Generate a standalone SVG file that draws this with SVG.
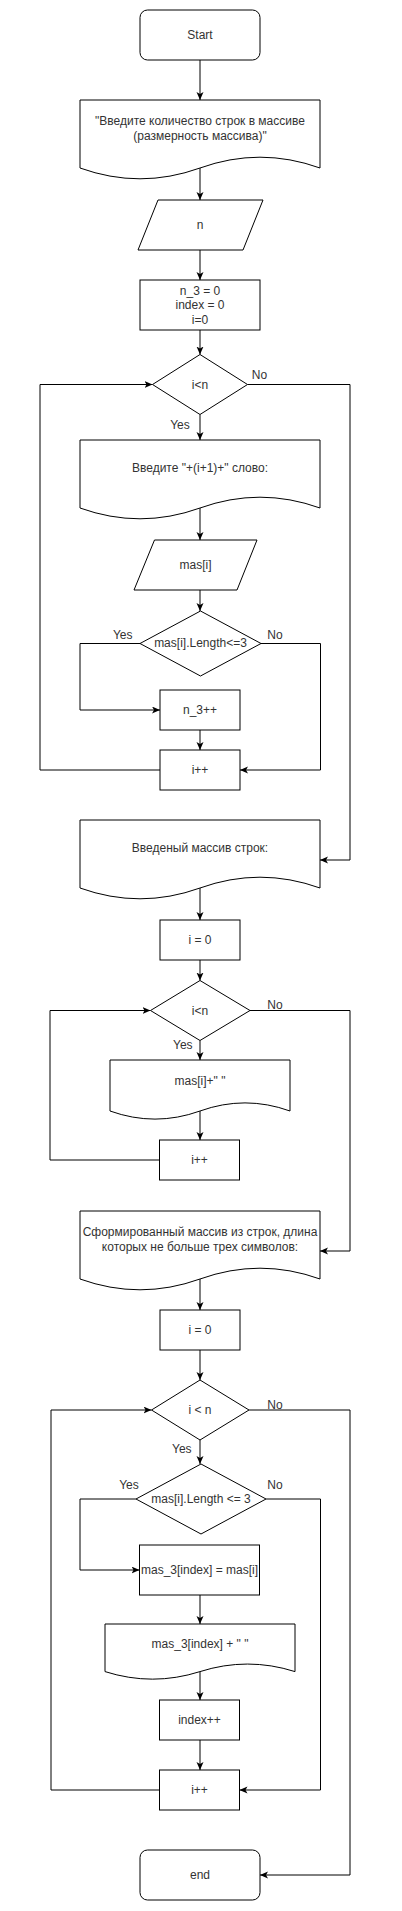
<svg xmlns="http://www.w3.org/2000/svg" width="402" height="1911" viewBox="0 0 402 1911">
<style>
.s{fill:#ffffff;stroke:#000000;stroke-width:1}
.c{fill:none;stroke:#000000;stroke-width:1}
text{font-family:"Liberation Sans",Arial,sans-serif;font-size:12px;fill:#333333}
.m{text-anchor:middle}
</style>
<defs>
<marker id="ah" markerWidth="8" markerHeight="8" refX="8" refY="3.5" orient="auto" markerUnits="userSpaceOnUse">
<path d="M0,0 L8,3.5 L0,7 L2,3.5 Z" fill="#000000"/>
</marker>
</defs>
<rect width="402" height="1911" fill="#ffffff"/>
<g id="connectors" marker-end="url(#ah)">
<path class="c" d="M200,60 L200,100" marker-end="url(#ah)"/>
<path class="c" d="M200,168 L200,200" marker-end="url(#ah)"/>
<path class="c" d="M200,250 L200,280" marker-end="url(#ah)"/>
<path class="c" d="M200,330 L200,354.5" marker-end="url(#ah)"/>
<path class="c" d="M247.5,384.5 L350,384.5 L350,860 L320,860" marker-end="url(#ah)"/>
<path class="c" d="M200,414.5 L200,440" marker-end="url(#ah)"/>
<path class="c" d="M200,508 L200,540" marker-end="url(#ah)"/>
<path class="c" d="M200,590 L200,611" marker-end="url(#ah)"/>
<path class="c" d="M140,643.5 L80,643.5 L80,710 L160,710" marker-end="url(#ah)"/>
<path class="c" d="M261,643.5 L320.5,643.5 L320.5,770 L240,770" marker-end="url(#ah)"/>
<path class="c" d="M200,730 L200,750" marker-end="url(#ah)"/>
<path class="c" d="M160,770 L40,770 L40,384.5 L152.5,384.5" marker-end="url(#ah)"/>
<path class="c" d="M200,888 L200,920" marker-end="url(#ah)"/>
<path class="c" d="M200,960 L200,980.5" marker-end="url(#ah)"/>
<path class="c" d="M250,1010.5 L350,1010.5 L350,1251 L320,1251" marker-end="url(#ah)"/>
<path class="c" d="M200,1040.5 L200,1060" marker-end="url(#ah)"/>
<path class="c" d="M200,1111 L200,1140" marker-end="url(#ah)"/>
<path class="c" d="M159.5,1160 L50,1160 L50,1010.5 L150.5,1010.5" marker-end="url(#ah)"/>
<path class="c" d="M200,1279 L200,1310" marker-end="url(#ah)"/>
<path class="c" d="M200,1350 L200,1380" marker-end="url(#ah)"/>
<path class="c" d="M249,1410 L350,1410 L350,1875 L260,1875" marker-end="url(#ah)"/>
<path class="c" d="M200,1440 L200,1464" marker-end="url(#ah)"/>
<path class="c" d="M136,1499 L80,1499 L80,1570 L139.5,1570" marker-end="url(#ah)"/>
<path class="c" d="M266,1499 L320.5,1499 L320.5,1790 L239.5,1790" marker-end="url(#ah)"/>
<path class="c" d="M200,1595 L200,1624" marker-end="url(#ah)"/>
<path class="c" d="M200,1671.6 L200,1700" marker-end="url(#ah)"/>
<path class="c" d="M200,1740 L200,1770" marker-end="url(#ah)"/>
<path class="c" d="M159.5,1790 L51,1790 L51,1410 L151.5,1410" marker-end="url(#ah)"/>
<text class="m" x="259.5" y="378.5">No</text>
<text class="m" x="180" y="428.5">Yes</text>
<text class="m" x="122.7" y="638.5">Yes</text>
<text class="m" x="275" y="638.5">No</text>
<text class="m" x="275" y="1008.5">No</text>
<text class="m" x="182.8" y="1048.5">Yes</text>
<text class="m" x="275" y="1408.5">No</text>
<text class="m" x="181.8" y="1452.5">Yes</text>
<text class="m" x="129" y="1488.5">Yes</text>
<text class="m" x="275" y="1488.5">No</text>
</g>
<g id="start"><rect class="s" x="140" y="10" width="120" height="50" rx="7.5"/><text class="m" x="200" y="39.3">Start</text></g>
<g id="doc1"><path class="s" d="M80,100 L320,100 L320,168 Q260,146.4 200,168 Q140,189.6 80,168 Z"/><text class="m" x="200" y="125">"Введите количество строк в массиве</text><text class="m" x="200" y="140.3">(размерность массива)"</text></g>
<g id="input-n"><polygon class="s" points="158,200 263,200 243,250 138,250"/><text class="m" x="200" y="229.3">n</text></g>
<g id="init"><rect class="s" x="140" y="280" width="120" height="50"/><text class="m" x="200" y="295">n_3 = 0</text><text class="m" x="200" y="309">index = 0</text><text class="m" x="200" y="323.5">i=0</text></g>
<g id="cond1"><polygon class="s" points="200,354.5 247.5,384.5 200,414.5 152.5,384.5"/><text class="m" x="200" y="388.8">i&lt;n</text></g>
<g id="doc2"><path class="s" d="M80,440 L320,440 L320,508 Q260,486.4 200,508 Q140,529.6 80,508 Z"/><text class="m" x="200" y="472">Введите "+(i+1)+" слово:</text></g>
<g id="input-mas"><polygon class="s" points="154.5,540 257,540 237,590 134,590"/><text class="m" x="195.5" y="569.3">mas[i]</text></g>
<g id="cond2"><polygon class="s" points="200.5,611 261,643.5 200.5,676 140,643.5"/><text class="m" x="200.5" y="646.6">mas[i].Length&lt;=3</text></g>
<g id="n3inc"><rect class="s" x="160" y="690" width="80" height="40"/><text class="m" x="200" y="714.3">n_3++</text></g>
<g id="iinc1"><rect class="s" x="160" y="750" width="80" height="40"/><text class="m" x="200" y="774.3">i++</text></g>
<g id="doc3"><path class="s" d="M80,820 L320,820 L320,888 Q260,866.4 200,888 Q140,909.6 80,888 Z"/><text class="m" x="200" y="852">Введеный массив строк:</text></g>
<g id="i0a"><rect class="s" x="160" y="920" width="80" height="40"/><text class="m" x="200" y="944.3">i = 0</text></g>
<g id="cond3"><polygon class="s" points="200,980.5 250,1010.5 200,1040.5 150.5,1010.5"/><text class="m" x="200" y="1014.6">i&lt;n</text></g>
<g id="doc-out1"><path class="s" d="M110,1060 L290,1060 L290,1111 Q245,1094.8 200,1111 Q155,1127.2 110,1111 Z"/><text class="m" x="200" y="1085">mas[i]+" "</text></g>
<g id="iinc2"><rect class="s" x="159.5" y="1140" width="80" height="40"/><text class="m" x="199.5" y="1164.3">i++</text></g>
<g id="doc4"><path class="s" d="M80,1211 L320,1211 L320,1279 Q260,1257.4 200,1279 Q140,1300.6 80,1279 Z"/><text class="m" x="200" y="1236">Сформированный массив из строк, длина</text><text class="m" x="200" y="1251">которых не больше трех символов:</text></g>
<g id="i0b"><rect class="s" x="160" y="1310" width="80" height="40"/><text class="m" x="200" y="1334.3">i = 0</text></g>
<g id="cond4"><polygon class="s" points="200,1380 249,1410 200,1440 151.5,1410"/><text class="m" x="200" y="1414.3">i &lt; n</text></g>
<g id="cond5"><polygon class="s" points="201,1464 266,1499 201,1534 136,1499"/><text class="m" x="201" y="1503.3">mas[i].Length &lt;= 3</text></g>
<g id="assign"><rect class="s" x="139.5" y="1545" width="120" height="50"/><text class="m" x="199.5" y="1574.3">mas_3[index] = mas[i]</text></g>
<g id="doc-out2"><path class="s" d="M105,1624 L295,1624 L295,1671.6 Q247.5,1656.5 200,1671.6 Q152.5,1686.7 105,1671.6 Z"/><text class="m" x="200" y="1648">mas_3[index] + " "</text></g>
<g id="indexinc"><rect class="s" x="159.5" y="1700" width="80" height="40"/><text class="m" x="199.5" y="1724.3">index++</text></g>
<g id="iinc3"><rect class="s" x="159.5" y="1770" width="80" height="40"/><text class="m" x="199.5" y="1794.3">i++</text></g>
<g id="end"><rect class="s" x="140" y="1850" width="120" height="50" rx="7.5"/><text class="m" x="200" y="1879.3">end</text></g>
</svg>
